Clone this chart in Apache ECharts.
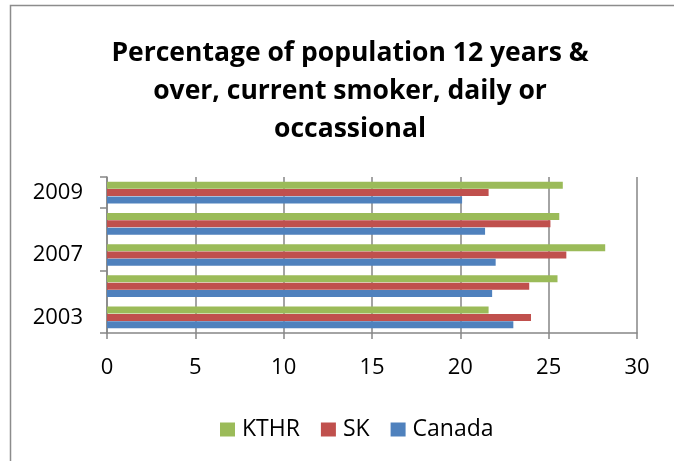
<!DOCTYPE html>
<html>
<head>
<meta charset="utf-8">
<script src="https://cdn.jsdelivr.net/npm/echarts@6/dist/echarts.min.js"></script>
<style>
  html, body { margin: 0; padding: 0; background: #fff; }
  #mychart { width: 674px; height: 461px; }
</style>
</head>
<body>
<div id="mychart"></div>
<script>
// 数据
var years = ['2003', '2005', '2007', '2008', '2009']
var canada = [23.0, 21.8, 22.0, 21.4, 20.1]
var sk = [24.0, 23.9, 26.0, 25.1, 21.6]
var kthr = [21.6, 25.5, 28.2, 25.6, 25.8]
var xTicks = [0, 30, 5]  // min, max, interval

var font = 'Open Sans'
var myChart = echarts.init(document.getElementById('mychart'))

var option = {
  animation: false,
  // 外框（只露出左边和上边）
  graphic: [{
    type: 'polyline',
    shape: { points: [[10.5, 470], [10.5, 5.5], [700, 5.5]] },
    style: { stroke: '#8c8c8c', lineWidth: 1.5, fill: null },
    silent: true
  }],
  title: {
    text: 'Percentage of population 12 years &\nover, current smoker, daily or\noccassional',
    left: 345,
    top: 29,
    textAlign: 'center',
    textStyle: { fontFamily: font, fontWeight: 'bold', fontSize: 26.5, lineHeight: 38, color: '#000' }
  },
  legend: {
    data: ['KTHR', 'SK', 'Canada'],
    bottom: 15,
    left: 215,
    itemWidth: 15,
    itemHeight: 14,
    itemGap: 21,
    icon: 'rect',
    textStyle: { fontFamily: font, fontSize: 23, color: '#000', padding: [0, 0, 0, 2] }
  },
  grid: { left: 107, right: 37, top: 177, bottom: 128 },
  xAxis: {
    type: 'value',
    min: xTicks[0],
    max: xTicks[1],
    interval: xTicks[2],
    axisLine: { show: true, lineStyle: { color: '#868686', width: 1.5 } },
    axisTick: { show: true, length: 6, lineStyle: { color: '#868686', width: 1.5 } },
    splitLine: { show: true, lineStyle: { color: '#868686', width: 1.5 } },
    axisLabel: { fontFamily: font, fontSize: 22, color: '#000', margin: 24 }
  },
  yAxis: {
    type: 'category',
    data: years,
    axisLine: { show: true, lineStyle: { color: '#868686', width: 1.5 } },
    axisTick: { show: true, length: 7, lineStyle: { color: '#868686', width: 1.5 } },
    axisLabel: { fontFamily: font, fontSize: 22, color: '#000', margin: 24, interval: 1 }
  },
  series: [
    { name: 'KTHR', type: 'bar', data: kthr, barWidth: 7, barGap: '5%', itemStyle: { color: '#9BBB59' } },
    { name: 'SK', type: 'bar', data: sk, barWidth: 7, barGap: '5%', itemStyle: { color: '#C0504D' } },
    { name: 'Canada', type: 'bar', data: canada, barWidth: 7, barGap: '5%', itemStyle: { color: '#4F81BD' } }
  ]
}

myChart.setOption(option)
</script>
</body>
</html>
